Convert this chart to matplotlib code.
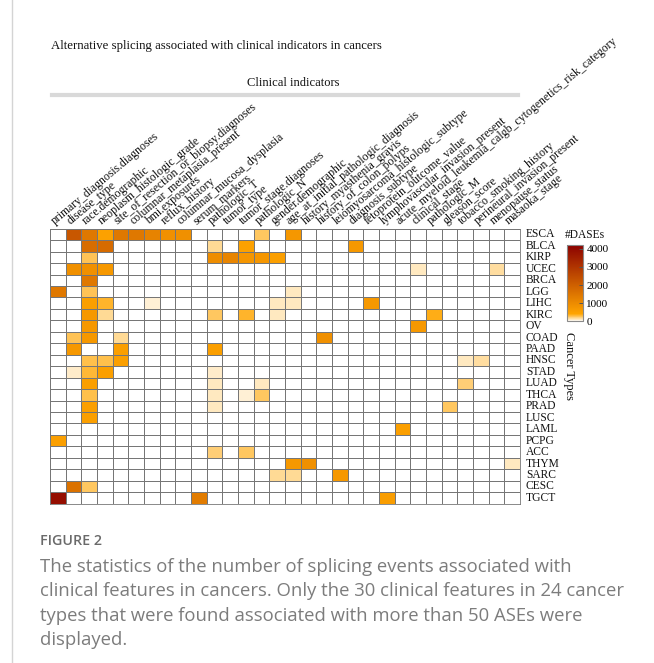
import numpy as np
import matplotlib
matplotlib.use("Agg")
import matplotlib.pyplot as plt
from matplotlib.colors import LinearSegmentedColormap, Normalize
from matplotlib.transforms import offset_copy
from matplotlib.cm import ScalarMappable

# ---- data -------------------------------------------------------------
clinical_indicators = [
    "primary_diagnosis.diagnoses", "disease_type", "race.demographic",
    "neoplasm_histologic_grade", "site_of_resection_or_biopsy.diagnoses",
    "columnar_metaplasia_present", "bmi.exposures", "reflux_history",
    "columnar_mucosa_dysplasia", "serum_markers", "pathologic_T",
    "tumor_type", "tumor_stage.diagnoses", "pathologic_N",
    "gender.demographic", "age_at_initial_pathologic_diagnosis",
    "history_myasthenia_gravis", "history_of_colon_polyps",
    "leiomyosarcoma_histologic_subtype", "diagnosis_subtype",
    "fetoprotein_outcome_value", "lymphovascular_invasion_present",
    "acute_myeloid_leukemia_calgb_cytogenetics_risk_category",
    "clinical_stage", "pathologic_M", "gleason_score",
    "tobacco_smoking_history", "perineural_invasion_present",
    "menopause_status", "masaoka_stage",
]

cancer_types = [
    "ESCA", "BLCA", "KIRP", "UCEC", "BRCA", "LGG", "LIHC", "KIRC", "OV",
    "COAD", "PAAD", "HNSC", "STAD", "LUAD", "THCA", "PRAD", "LUSC", "LAML",
    "PCPG", "ACC", "THYM", "SARC", "CESC", "TGCT",
]

# number of differential ASEs per (cancer type, clinical indicator);
# only non-zero entries are listed
dases_nonzero = {
    "ESCA": {1: 2200, 2: 1450, 3: 500, 4: 1450, 5: 1450, 6: 1200, 7: 900, 8: 900, 13: 250, 15: 730},
    "BLCA": {2: 1700, 3: 1750, 10: 180, 12: 500, 19: 720},
    "KIRP": {2: 275, 10: 950, 11: 1150, 12: 750, 13: 750, 14: 550},
    "UCEC": {1: 900, 2: 900, 3: 720, 23: 100, 28: 160},
    "BRCA": {2: 1450},
    "LGG":  {0: 1450, 2: 275, 15: 110},
    "LIHC": {2: 550, 3: 340, 6: 80, 14: 110, 15: 110, 20: 720},
    "KIRC": {2: 720, 3: 180, 10: 250, 12: 340, 14: 110, 24: 380},
    "OV":   {2: 720, 23: 700},
    "COAD": {1: 275, 2: 720, 4: 170, 17: 900},
    "PAAD": {1: 700, 4: 550, 10: 550},
    "HNSC": {2: 290, 3: 290, 4: 550, 26: 110, 27: 160},
    "STAD": {1: 90, 2: 320, 3: 550, 10: 90},
    "LUAD": {2: 550, 10: 110, 13: 110, 26: 215},
    "THCA": {2: 290, 10: 110, 12: 75, 13: 260},
    "PRAD": {2: 550, 10: 110, 25: 250},
    "LUSC": {2: 550},
    "LAML": {22: 550},
    "PCPG": {0: 550},
    "ACC":  {10: 220, 12: 250},
    "THYM": {15: 720, 16: 900, 29: 110},
    "SARC": {14: 180, 15: 180, 18: 700},
    "CESC": {1: 1600, 2: 250},
    "TGCT": {0: 3900, 9: 1350, 21: 600},
}

legend_ticks = [0, 1000, 2000, 3000, 4000]
legend_max = 4230

caption_lines = [
    "The statistics of the number of splicing events associated with",
    "clinical features in cancers. Only the 30 clinical features in 24 cancer",
    "types that were found associated with more than 50 ASEs were",
    "displayed.",
]

# ---- matrix -------------------------------------------------------------
n_rows, n_cols = len(cancer_types), len(clinical_indicators)
values = np.zeros((n_rows, n_cols))
for r, name in enumerate(cancer_types):
    for c, v in dases_nonzero[name].items():
        values[r, c] = v

cmap = LinearSegmentedColormap.from_list(
    "dases", [(0.0, "#ffffff"), (400 / legend_max, "#ffa500"), (1.0, "#8b0000")]
)
norm = Normalize(vmin=0, vmax=legend_max)

serif = "Liberation Serif"
W, H = 654, 663
fig = plt.figure(figsize=(W / 100, H / 100), dpi=100)
fig.patch.set_facecolor("white")


def fx(px):
    return px / W


def fy(py):
    return 1 - py / H


# ---- heatmap ------------------------------------------------------------
gx0, gx1, gy0, gy1 = 50, 520, 228.7, 503.6
ax = fig.add_axes([fx(gx0), fy(gy1), fx(gx1 - gx0), (gy1 - gy0) / H])
ax.pcolormesh(np.arange(n_cols + 1), np.arange(n_rows + 1), values,
              cmap=cmap, norm=norm, edgecolors="#767676", linewidth=0.6)
ax.set_xlim(0, n_cols)
ax.set_ylim(n_rows, 0)
ax.set_xticks([])
ax.set_yticks([])
for s in ax.spines.values():
    s.set_edgecolor("#767676")
    s.set_linewidth(0.6)

col_tr = offset_copy(ax.transData, fig=fig, x=-1, y=2, units="dots")
for i, lab in enumerate(clinical_indicators):
    ax.text(i + 0.5, 0, lab, transform=col_tr, rotation=40,
            rotation_mode="anchor", ha="left", va="bottom",
            fontsize=8.5, family=serif, color="#111111", clip_on=False)

row_tr = offset_copy(ax.transData, fig=fig, x=6, y=0, units="dots")
for j, lab in enumerate(cancer_types):
    ax.text(n_cols, j + 0.5, lab, transform=row_tr, ha="left", va="center",
            fontsize=8.3, family=serif, color="#111111", clip_on=False)

# ---- headers ------------------------------------------------------------
fig.text(fx(51), fy(46), "Alternative splicing associated with clinical indicators in cancers",
         ha="left", va="center", fontsize=9.2, family=serif, color="#111111")
fig.text(fx(293), fy(83), "Clinical indicators", ha="center", va="center",
         fontsize=9, family=serif, color="#111111")
fig.add_artist(plt.Line2D([fx(52), fx(518)], [fy(94.5), fy(94.5)],
                          transform=fig.transFigure, color="#d9d9d9", linewidth=3))

# ---- legend -------------------------------------------------------------
cax = fig.add_axes([fx(567), fy(321.3), fx(16), (321.3 - 244.7) / H])
cb = fig.colorbar(ScalarMappable(norm=norm, cmap=cmap), cax=cax, ticks=legend_ticks)
cb.outline.set_edgecolor("#8a8a8a")
cb.outline.set_linewidth(0.8)
cax.tick_params(direction="in", length=3, width=0.7, color="#555555", pad=2.5, labelsize=8)
for t in cax.get_yticklabels():
    t.set_family(serif)
fig.text(fx(565), fy(234.5), "#DASEs", ha="left", va="center",
         fontsize=8.3, family=serif, color="#111111")
fig.text(fx(569), fy(366), "Cancer Types", ha="center", va="center",
         rotation=-90, fontsize=9, family=serif, color="#111111")

# ---- caption ------------------------------------------------------------
fig.add_artist(plt.Line2D([fx(11.5), fx(11.5)], [0, 1], transform=fig.transFigure,
                          color="#d4d4d4", linewidth=1))
fig.text(fx(40), fy(541), "FIGURE 2", ha="left", va="center", fontsize=10.3,
         family="Open Sans", color="#6a6a6a", weight="semibold")
for k, line in enumerate(caption_lines):
    fig.text(fx(40), fy(567 + 24.4 * k), line, ha="left", va="center",
             fontsize=13.3, family="Open Sans", color="#7c7c7c")

fig.savefig("out.png", dpi=100)
